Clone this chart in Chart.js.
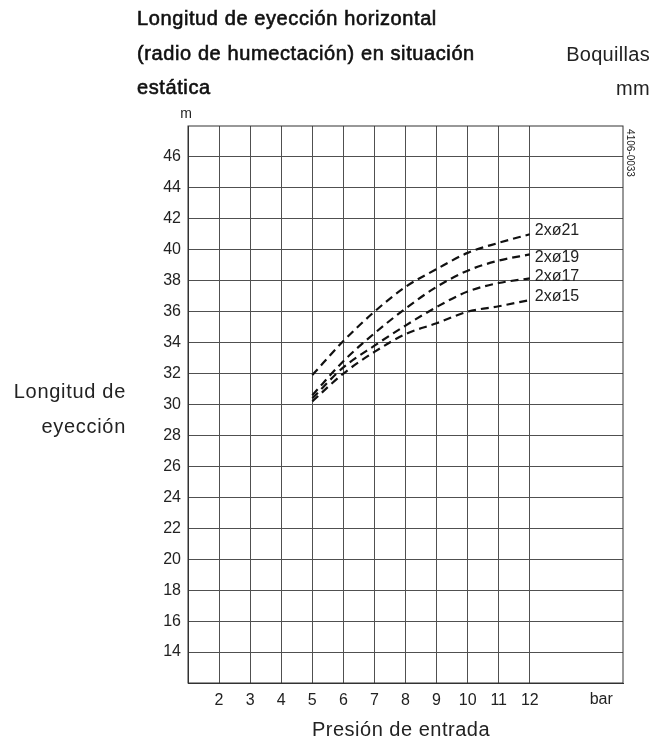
<!DOCTYPE html>
<html><head><meta charset="utf-8">
<script src="https://cdn.jsdelivr.net/npm/chart.js@4"></script>
<style>html,body{margin:0;padding:0;background:#fff}#wrap{width:668px;height:742px;position:relative}</style>
</head><body><div id="wrap"><canvas id="c" width="668" height="742"></canvas></div>
<script>
// ---- data ----
const pressure = [5, 6, 7, 8, 9, 10, 11, 12];
const nozzle21 = [31.9, 34.1, 36.0, 37.6, 38.75, 39.8, 40.45, 41.0];
const nozzle19 = [30.6, 32.8, 34.6, 36.2, 37.6, 38.65, 39.3, 39.7];
const nozzle17 = [30.4, 32.4, 33.8, 35.1, 36.3, 37.3, 37.85, 38.15];
const nozzle15 = [30.2, 32.0, 33.4, 34.55, 35.25, 36.0, 36.35, 36.75];
const seriesNames = ['2xø21', '2xø19', '2xø17', '2xø15'];
const xTicks = [2, 3, 4, 5, 6, 7, 8, 9, 10, 11, 12];
const yTicks = [14, 16, 18, 20, 22, 24, 26, 28, 30, 32, 34, 36, 38, 40, 42, 44, 46];
const titleLines = ['Longitud de eyección horizontal', '(radio de humectación) en situación', 'estática'];
const yTitleLines = ['Longitud de', 'eyección'];
const xTitle = 'Presión de entrada';
const xUnit = 'bar';
const yUnit = 'm';
const legendTitle = 'Boquillas';
const legendUnit = 'mm';
const drawingCode = '4106-0033';

const FONT = "'Liberation Sans', Arial, sans-serif";
const seriesValues = [nozzle21, nozzle19, nozzle17, nozzle15];
const datasets = seriesValues.map((vals, i) => ({
  label: seriesNames[i],
  data: pressure.map((p, j) => ({x: p, y: vals[j]})),
  borderColor: '#111',
  borderWidth: 2.2,
  borderDash: [8, 5],
  pointRadius: 0,
  fill: false,
  cubicInterpolationMode: 'monotone'
}));

const labelDy = [-4, 3, -2, -3];

const annot = {
  id: 'annot',
  afterDraw(chart) {
    const ctx = chart.ctx;
    const a = chart.chartArea;
    const xs = chart.scales.x;
    ctx.save();
    ctx.strokeStyle = '#333';
    ctx.lineWidth = 1;
    ctx.strokeRect(a.left, a.top, a.right - a.left, a.bottom - a.top);
    ctx.fillStyle = '#111';
    ctx.textBaseline = 'middle';
    // title (medium weight emulated)
    ctx.font = '20px ' + FONT;
    ctx.letterSpacing = '0.6px';
    ctx.textAlign = 'left';
    ctx.strokeStyle = '#111';
    ctx.lineWidth = 0.6;
    [19, 54, 88].forEach((y, i) => { ctx.fillText(titleLines[i], 137, y); ctx.strokeText(titleLines[i], 137, y); });
    ctx.fillStyle = '#222';
    ctx.letterSpacing = '0.3px';
    ctx.textAlign = 'right';
    ctx.fillText(legendTitle, 650, 55);
    ctx.fillText(legendUnit, 650, 89);
    // y title
    ctx.letterSpacing = '0.7px';
    ctx.fillText(yTitleLines[0], 126, 392);
    ctx.fillText(yTitleLines[1], 126, 427);
    // x title
    ctx.letterSpacing = '0.5px';
    ctx.textAlign = 'center';
    ctx.fillText(xTitle, 401, 730);
    ctx.letterSpacing = '0px';
    // y unit
    ctx.font = '14px ' + FONT;
    ctx.textAlign = 'center';
    ctx.fillText(yUnit, 186, 114);
    // x unit
    ctx.font = '16px ' + FONT;
    ctx.fillText(xUnit, xs.getPixelForValue(14.3), 700);
    // series labels
    ctx.textAlign = 'left';
    chart.data.datasets.forEach((ds, i) => {
      const meta = chart.getDatasetMeta(i);
      const pt = meta.data[meta.data.length - 1];
      ctx.fillText(ds.label, pt.x + 5, pt.y + labelDy[i]);
    });
    // drawing code
    ctx.font = '10px ' + FONT;
    ctx.translate(630, 153);
    ctx.rotate(Math.PI / 2);
    ctx.textAlign = 'center';
    ctx.fillText(drawingCode, 0, 0);
    ctx.restore();
  }
};

new Chart(document.getElementById('c'), {
  type: 'line',
  data: {datasets},
  options: {
    responsive: false,
    animation: false,
    devicePixelRatio: 1,
    layout: {padding: {top: 126, right: 45, left: 0, bottom: 0}},
    plugins: {legend: {display: false}, tooltip: {enabled: false}},
    scales: {
      x: {
        type: 'linear', min: 1, max: 15,
        afterBuildTicks: s => { s.ticks = xTicks.map(v => ({value: v})); },
        afterFit: s => { s.height = 59; },
        grid: {color: '#505050', lineWidth: 1, drawTicks: false},
        border: {display: true, color: '#333', width: 1},
        ticks: {padding: 8, color: '#222', font: {family: FONT, size: 16}, autoSkip: false, maxRotation: 0,
                callback: v => String(v)}
      },
      y: {
        type: 'linear', min: 12, max: 48,
        afterBuildTicks: s => { s.ticks = yTicks.map(v => ({value: v})); },
        afterFit: s => { s.width = 188; },
        grid: {color: '#505050', lineWidth: 1, drawTicks: false},
        border: {display: true, color: '#333', width: 1},
        ticks: {padding: 7, color: '#222', font: {family: FONT, size: 16}, callback: v => String(v)}
      }
    }
  },
  plugins: [annot]
});
</script></body></html>
